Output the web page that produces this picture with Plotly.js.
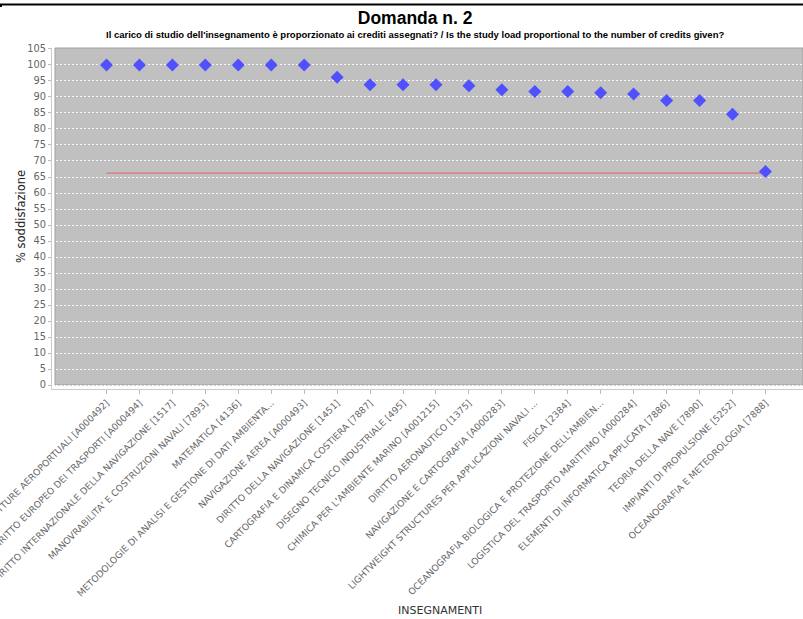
<!DOCTYPE html>
<html>
<head>
<meta charset="utf-8">
<script src="https://cdn.plot.ly/plotly-3.0.1.min.js"></script>
<style>
  html, body { margin: 0; padding: 0; background: #ffffff; }
  #chart { width: 803px; height: 619px; }
</style>
</head>
<body>
<div id="chart"></div>
<script>
const categories = [
  "INFRASTRUTTURE AEROPORTUALI [A000492]",
  "DIRITTO EUROPEO DEI TRASPORTI [A000494]",
  "DIRITTO INTERNAZIONALE DELLA NAVIGAZIONE [1517]",
  "MANOVRABILITA' E COSTRUZIONI NAVALI [7893]",
  "MATEMATICA [4136]",
  "METODOLOGIE DI ANALISI E GESTIONE DI DATI AMBIENTA...",
  "NAVIGAZIONE AEREA [A000493]",
  "DIRITTO DELLA NAVIGAZIONE [1451]",
  "CARTOGRAFIA E DINAMICA COSTIERA [7887]",
  "DISEGNO TECNICO INDUSTRIALE [495]",
  "CHIMICA PER L'AMBIENTE MARINO [A001215]",
  "DIRITTO AERONAUTICO [1375]",
  "NAVIGAZIONE E CARTOGRAFIA [A000283]",
  "LIGHTWEIGHT STRUCTURES PER APPLICAZIONI NAVALI ...",
  "FISICA [2384]",
  "OCEANOGRAFIA BIOLOGICA E PROTEZIONE DELL'AMBIEN...",
  "LOGISTICA DEL TRASPORTO MARITTIMO [A000284]",
  "ELEMENTI DI INFORMATICA APPLICATA [7886]",
  "TEORIA DELLA NAVE [7890]",
  "IMPIANTI DI PROPULSIONE [5252]",
  "OCEANOGRAFIA E METEOROLOGIA [7888]"
];
const satisfaction = [100, 100, 100, 100, 100, 100, 100, 96.2, 93.8, 93.8, 93.8, 93.5, 92.3, 91.7, 91.7, 91.3, 90.9, 88.9, 88.9, 84.6, 66.7];
const referenceValue = 66.2;
const yTickValues = [0,5,10,15,20,25,30,35,40,45,50,55,60,65,70,75,80,85,90,95,100,105];

const titleText = "Domanda n. 2";
const subtitleText = "Il carico di studio dell'insegnamento è proporzionato ai crediti assegnati? / Is the study load proportional to the number of credits given?";
const yTitleText = "% soddisfazione";
const xTitleText = "INSEGNAMENTI";

const headFont = "'Liberation Sans', Arial, sans-serif";
const sans = "'DejaVu Sans', 'Liberation Sans', sans-serif";

const idx = categories.map((c, i) => i);

const traces = [
  {
    type: 'scatter', mode: 'lines',
    x: [idx[0], idx[idx.length - 1]],
    y: [referenceValue, referenceValue],
    line: { color: 'rgb(228,112,112)', width: 1.2 },
    hoverinfo: 'skip', showlegend: false
  },
  {
    type: 'scatter', mode: 'markers',
    x: idx, y: satisfaction,
    marker: { symbol: 'diamond', size: 10, color: 'rgb(80,80,255)', line: { width: 0 } },
    showlegend: false
  }
];

const layout = {
  width: 803, height: 619,
  margin: { l: 52, r: 0, t: 48, b: 230, pad: 0 },
  paper_bgcolor: '#ffffff',
  plot_bgcolor: 'rgba(0,0,0,0)',
  showlegend: false,
  title: {
    text: '<b>' + titleText + '</b>',
    font: { family: headFont, size: 17.5, color: '#000000' },
    xref: 'container', yref: 'container',
    x: 0.517, xanchor: 'center',
    y: 1 - 18 / 619, yanchor: 'middle'
  },
  xaxis: {
    range: [-1.654, 21.14],
    tickmode: 'array',
    tickvals: idx,
    ticktext: categories,
    tickangle: -45,
    tickfont: { family: sans, size: 9.2, color: '#666666' },
    ticklabeloverflow: 'allow',
    ticks: 'outside', ticklen: 4, tickcolor: '#bbbbbb', tickwidth: 1,
    showgrid: false, zeroline: false,
    showline: true, linecolor: '#cccccc', linewidth: 1,
    automargin: false, fixedrange: true
  },
  yaxis: {
    range: [-1.25, 105.31],
    tickmode: 'array',
    tickvals: yTickValues,
    ticktext: yTickValues.map(String),
    tickfont: { family: sans, size: 9.8, color: '#666666' },
    ticks: 'outside', ticklen: 3, tickcolor: '#bbbbbb', tickwidth: 1,
    showgrid: true, gridcolor: 'rgba(255,255,255,0.85)', gridwidth: 1, griddash: '2px,2px',
    zeroline: false,
    showline: true, linecolor: '#cccccc', linewidth: 1,
    automargin: false, fixedrange: true
  },
  shapes: [
    {
      type: 'rect', xref: 'paper', yref: 'paper', layer: 'below',
      x0: 3 / 751, x1: 1, y0: 4 / 341, y1: 1,
      fillcolor: '#c0c0c0', line: { color: '#a0a0a0', width: 1 }
    },
    {
      type: 'line', xref: 'paper', yref: 'paper', layer: 'above',
      x0: -52 / 751, x1: 1, y0: (389 - 4.5) / 341, y1: (389 - 4.5) / 341,
      line: { color: '#000000', width: 2 }
    },
    {
      type: 'line', xref: 'paper', yref: 'paper', layer: 'above',
      x0: -51 / 751, x1: -51 / 751, y0: (389 - 4) / 341, y1: (389 - 7) / 341,
      line: { color: '#000000', width: 2 }
    }
  ],
  annotations: [
    {
      text: '<b>' + subtitleText + '</b>',
      xref: 'paper', yref: 'paper',
      x: (415 - 52) / 751, y: (389 - 34) / 341,
      xanchor: 'center', yanchor: 'middle', showarrow: false,
      font: { family: headFont, size: 9.5, color: '#000000' }
    },
    {
      text: yTitleText,
      xref: 'paper', yref: 'paper',
      x: (21 - 52) / 751, y: (389 - 217) / 341,
      xanchor: 'center', yanchor: 'middle', showarrow: false, textangle: -90,
      font: { family: sans, size: 11.5, color: '#222222' }
    },
    {
      text: xTitleText,
      xref: 'paper', yref: 'paper',
      x: (440 - 52) / 751, y: (389 - 610) / 341,
      xanchor: 'center', yanchor: 'middle', showarrow: false,
      font: { family: sans, size: 11, color: '#333333' }
    }
  ]
};

Plotly.newPlot('chart', traces, layout, { staticPlot: true, displayModeBar: false });
</script>
</body>
</html>
